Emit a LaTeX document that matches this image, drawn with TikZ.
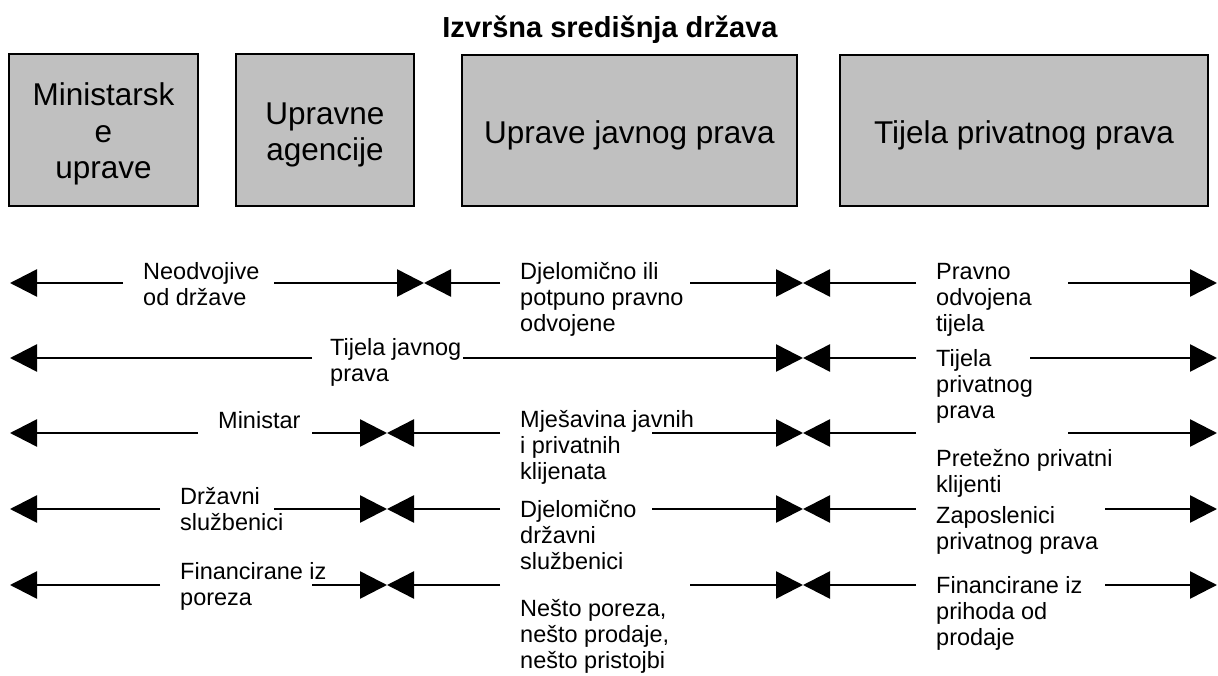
\documentclass[tikz,border=0pt]{standalone}
\usepackage{fontspec}
\setmainfont{Liberation Sans}
\usepackage{tikz}
\usetikzlibrary{arrows.meta}
\definecolor{boxgray}{RGB}{192,192,192}

\begin{document}
\begin{tikzpicture}[x=1pt,y=-1pt,
    box node/.style={draw=black,line width=1.3pt,fill=boxgray,inner sep=0pt},
    box text/.style={align=center,inner sep=0pt,font=\fontsize{31.5}{36.5}\selectfont},
    lbl/.style={anchor=north west,inner sep=0pt,align=left,
                font=\fontsize{23.5}{26}\selectfont,execute at begin node=\strut},
    arr/.style={-{Triangle[length=27pt,width=27pt]},line width=2.5pt}]
\useasboundingbox (0,0) rectangle (1218,676);

\node[font=\bfseries\fontsize{29}{33}\selectfont] (title) at (610,30) {Izvršna središnja država};

% the four kinds of bodies
\node[box node,minimum width=189pt,minimum height=152pt] (min) at (103.5,130) {};
\node[box node,minimum width=178pt,minimum height=152pt] (agen) at (325,130) {};
\node[box node,minimum width=335pt,minimum height=151pt] (javno) at (629.5,130.5) {};
\node[box node,minimum width=368pt,minimum height=151pt] (priv) at (1024,130.5) {};
\node[box text] at ([yshift=-4pt]min.center) {Ministarsk\\e\\uprave};
\node[box text] at ([yshift=-5pt]agen.center) {Upravne\\agencije};
\node[box text] at ([yshift=-5pt]javno.center) {Uprave javnog prava};
\node[box text] at ([yshift=-5pt]priv.center) {Tijela privatnog prava};

% labels
\node[lbl] (neo) at (143,262) {Neodvojive\\od države};
\node[lbl] (djel) at (520,262) {Djelomično ili\\potpuno pravno\\odvojene};
\node[lbl] (prav) at (936,263) {Pravno\\odvojena\\tijela};
%
\node[lbl] (tjav) at (330,338) {Tijela javnog\\prava};
\node[lbl] (tpriv) at (936,349) {Tijela\\privatnog\\prava};
%
\node[lbl] (mnst) at (218,410) {Ministar};
\node[lbl] (mjes) at (520,410) {Mješavina javnih\\i privatnih\\klijenata};
\node[lbl] (pret) at (936,449) {Pretežno privatni\\klijenti};
%
\node[lbl] (drz) at (180,487) {Državni\\službenici};
\node[lbl] (djdrz) at (520,500) {Djelomično\\državni\\službenici};
\node[lbl] (zap) at (936,506) {Zaposlenici\\privatnog prava};
%
\node[lbl] (fpor) at (180,562) {Financirane iz\\poreza};
\node[lbl] (nesto) at (520,599) {Nešto poreza,\\nešto prodaje,\\nešto pristojbi};
\node[lbl] (fprod) at (936,576) {Financirane iz\\prihoda od\\prodaje};

% ends and meeting points of the arrows
\path (10,283) coordinate (L1) (123,283) coordinate (a1) (274,283) coordinate (b1)
      (424,283) coordinate (A1) (500,283) coordinate (c1) (690,283) coordinate (d1)
      (803,283) coordinate (B1) (916,283) coordinate (e1) (1068,283) coordinate (f1)
      (1217,283) coordinate (R1);
\path (10,358) coordinate (L2) (312,358) coordinate (a2) (463,358) coordinate (d2)
      (803,358) coordinate (B2) (916,358) coordinate (e2) (1030,358) coordinate (f2)
      (1217,358) coordinate (R2);
\path (10,433) coordinate (L3) (198,433) coordinate (a3) (312,433) coordinate (b3)
      (387,433) coordinate (A3) (500,433) coordinate (c3) (652,433) coordinate (d3)
      (803,433) coordinate (B3) (916,433) coordinate (e3) (1068,433) coordinate (f3)
      (1217,433) coordinate (R3);
\path (10,509) coordinate (L4) (160,509) coordinate (a4) (274,509) coordinate (b4)
      (387,509) coordinate (A4) (500,509) coordinate (c4) (652,509) coordinate (d4)
      (803,509) coordinate (B4) (916,509) coordinate (e4) (1105,509) coordinate (f4)
      (1217,509) coordinate (R4);
\path (10,585) coordinate (L5) (160,585) coordinate (a5) (312,585) coordinate (b5)
      (387,585) coordinate (A5) (500,585) coordinate (c5) (690,585) coordinate (d5)
      (803,585) coordinate (B5) (916,585) coordinate (e5) (1105,585) coordinate (f5)
      (1217,585) coordinate (R5);

\begin{scope}[arr]
  \draw (a1) -- (L1); \draw (b1) -- (A1); \draw (c1) -- (A1);
  \draw (d1) -- (B1); \draw (e1) -- (B1); \draw (f1) -- (R1);
  %
  \draw (a2) -- (L2); \draw (d2) -- (B2); \draw (e2) -- (B2); \draw (f2) -- (R2);
  %
  \draw (a3) -- (L3); \draw (b3) -- (A3); \draw (c3) -- (A3);
  \draw (d3) -- (B3); \draw (e3) -- (B3); \draw (f3) -- (R3);
  %
  \draw (a4) -- (L4); \draw (b4) -- (A4); \draw (c4) -- (A4);
  \draw (d4) -- (B4); \draw (e4) -- (B4); \draw (f4) -- (R4);
  %
  \draw (a5) -- (L5); \draw (b5) -- (A5); \draw (c5) -- (A5);
  \draw (d5) -- (B5); \draw (e5) -- (B5); \draw (f5) -- (R5);
\end{scope}
\end{tikzpicture}
\end{document}
